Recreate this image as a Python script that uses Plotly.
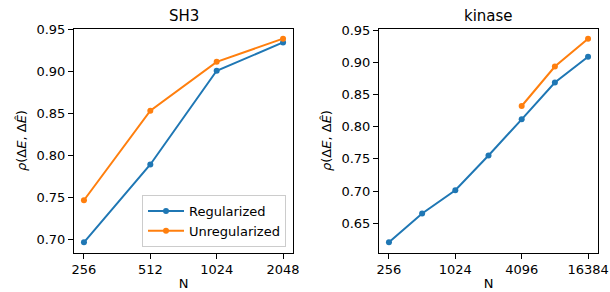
import math
import plotly.graph_objects as go

# SH3 data
sh3_n = [256, 512, 1024, 2048]
sh3_reg = [0.6965, 0.7892, 0.9008, 0.9345]
sh3_unreg = [0.7466, 0.8532, 0.9114, 0.9390]
sh3_ticks = [256, 512, 1024, 2048]

# kinase data
kin_n = [256, 512, 1024, 2048, 4096, 8192, 16384]
kin_reg = [0.6202, 0.6650, 0.7012, 0.7552, 0.8114, 0.8687, 0.9088]
kin_unreg_n = [4096, 8192, 16384]
kin_unreg = [0.8322, 0.8936, 0.9369]
kin_ticks = [256, 1024, 4096, 16384]

sh3_yticks = [0.70, 0.75, 0.80, 0.85, 0.90, 0.95]
kin_yticks = [0.65, 0.70, 0.75, 0.80, 0.85, 0.90, 0.95]

BLUE = "#1f77b4"
ORANGE = "#ff7f0e"
FONT = "DejaVu Sans"

W, H = 610, 292
fig = go.Figure()

line = dict(width=2)
mk = dict(size=6, symbol="circle")

fig.add_trace(go.Scatter(x=sh3_n, y=sh3_reg, mode="lines+markers", name="Regularized",
                         line=dict(color=BLUE, **line), marker=dict(color=BLUE, **mk),
                         xaxis="x", yaxis="y"))
fig.add_trace(go.Scatter(x=sh3_n, y=sh3_unreg, mode="lines+markers", name="Unregularized",
                         line=dict(color=ORANGE, **line), marker=dict(color=ORANGE, **mk),
                         xaxis="x", yaxis="y"))
fig.add_trace(go.Scatter(x=kin_n, y=kin_reg, mode="lines+markers", name="Regularized",
                         showlegend=False,
                         line=dict(color=BLUE, **line), marker=dict(color=BLUE, **mk),
                         xaxis="x2", yaxis="y2"))
fig.add_trace(go.Scatter(x=kin_unreg_n, y=kin_unreg, mode="lines+markers", name="Unregularized",
                         showlegend=False,
                         line=dict(color=ORANGE, **line), marker=dict(color=ORANGE, **mk),
                         xaxis="x2", yaxis="y2"))

L2 = math.log10(2)


def xax(ticks, lo, hi, dom, anchor):
    return dict(type="log", range=[lo * L2, hi * L2], domain=dom, anchor=anchor,
                automargin=False,
                tickmode="array", tickvals=ticks, ticktext=[str(t) for t in ticks],
                showline=True, linecolor="black", linewidth=1, mirror=True,
                ticks="outside", ticklen=5, tickwidth=1, tickcolor="black",
                showgrid=False, zeroline=False,
                tickfont=dict(family=FONT, size=13, color="black"),
                title=dict(text="N", font=dict(family=FONT, size=13, color="black"), standoff=2))


def yax(ticks, lo, hi, dom, anchor):
    return dict(range=[lo, hi], domain=dom, anchor=anchor,
                automargin=False,
                tickmode="array", tickvals=ticks, ticktext=["%.2f" % t for t in ticks],
                showline=True, linecolor="black", linewidth=1, mirror=True,
                ticks="outside", ticklen=5, tickwidth=1, tickcolor="black",
                showgrid=False, zeroline=False,
                tickfont=dict(family=FONT, size=13, color="black"),
                title=dict(text="<i>ρ</i>(Δ<i>E</i>, Δ<i>Ê</i>)",
                           font=dict(family=FONT, size=13, color="black"), standoff=6))


ydom = [1 - 252.5 / H, 1 - 28.5 / H]
fig.update_layout(
    width=W, height=H, margin=dict(l=0, r=0, t=0, b=0, pad=0, autoexpand=False),
    paper_bgcolor="white", plot_bgcolor="white",
    xaxis=xax(sh3_ticks, 7.85, 11.15, [74 / W, 293 / W], "y"),
    yaxis=yax(sh3_yticks, 0.6844, 0.9511, ydom, "x"),
    xaxis2=xax(kin_ticks, 7.7, 14.3, [379 / W, 598 / W], "y2"),
    yaxis2=yax(kin_yticks, 0.6044, 0.9527, ydom, "x2"),
    legend=dict(x=286 / W, y=1 - 247 / H, xanchor="right", yanchor="bottom",
                bgcolor="rgba(255,255,255,0.8)", bordercolor="#cccccc", borderwidth=1,
                font=dict(family=FONT, size=13, color="black"),
                tracegroupgap=0, itemwidth=36),
    showlegend=True,
    annotations=[
        dict(text="SH3", x=(74 + 293) / 2 / W, y=1 - 16 / H, xref="paper", yref="paper",
             xanchor="center", yanchor="middle",
             showarrow=False, font=dict(family=FONT, size=15, color="black")),
        dict(text="kinase", x=(379 + 598) / 2 / W, y=1 - 16 / H, xref="paper", yref="paper",
             xanchor="center", yanchor="middle",
             showarrow=False, font=dict(family=FONT, size=15, color="black")),
    ],
)

fig.write_html("out.html", config={"displayModeBar": False},
               post_script="document.body.style.margin='0';document.body.style.overflow='hidden';")
